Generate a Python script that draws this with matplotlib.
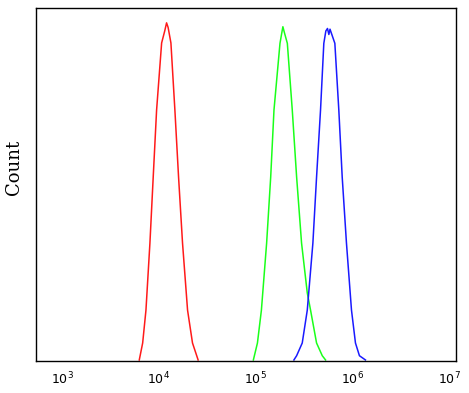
import numpy as np
import matplotlib
matplotlib.use("Agg")
import matplotlib.pyplot as plt

# histogram outlines (log10 intensity, % of max count)
red_log = [3.797, 3.832, 3.866, 3.907, 3.941, 3.976, 4.028, 4.060, 4.079, 4.095,
           4.124, 4.165, 4.203, 4.244, 4.296, 4.347, 4.405]
red_cnt = [0.3, 5.1, 14.4, 33.4, 52.1, 71.1, 90.1, 93.5, 95.8, 94.5,
           90.1, 71.1, 52.1, 33.4, 14.4, 5.1, 0.3]

green_log = [4.976, 5.018, 5.059, 5.113, 5.155, 5.189, 5.251, 5.270, 5.281, 5.295,
             5.327, 5.378, 5.423, 5.474, 5.533, 5.567, 5.629, 5.688, 5.722]
green_cnt = [0.3, 5.1, 14.4, 33.4, 52.1, 71.1, 90.0, 93.0, 94.7, 93.2,
             90.0, 71.1, 52.1, 33.4, 19.3, 14.4, 5.1, 1.5, 0.3]

blue_log = [5.395, 5.423, 5.481, 5.533, 5.591, 5.629, 5.670, 5.704, 5.725, 5.742,
            5.756, 5.768, 5.818, 5.859, 5.894, 5.938, 5.990, 6.031, 6.072, 6.134]
blue_cnt = [0.3, 1.5, 5.1, 14.4, 33.4, 52.1, 71.1, 90.0, 93.5, 94.2,
            92.5, 94.0, 90.0, 71.1, 52.1, 33.4, 14.4, 5.1, 1.5, 0.3]

fig = plt.figure(figsize=(4.69, 3.93), dpi=100)
ax = fig.add_axes([0.0768, 0.0814, 0.8955, 0.8982])

ax.plot(10 ** np.array(red_log), red_cnt, color="#ff1a1a", lw=1.1)
ax.plot(10 ** np.array(green_log), green_cnt, color="#1aff1a", lw=1.1)
ax.plot(10 ** np.array(blue_log), blue_cnt, color="#1a1aff", lw=1.1)

ax.set_xscale("log")
ax.set_xlim(10 ** 2.73, 10 ** 7.07)
ax.set_ylim(0, 100)
ax.set_xticks([1e3, 1e4, 1e5, 1e6, 1e7])
ax.xaxis.set_minor_locator(matplotlib.ticker.NullLocator())
ax.set_yticks([])
ax.tick_params(axis="x", length=0, pad=7, labelsize=9)

for s in ax.spines.values():
    s.set_linewidth(1)
    s.set_color("black")

# y label sits a bit above the axes centre in the original
fig.text(0.030, 0.574, "Count", family="DejaVu Serif", fontsize=13,
         rotation=90, ha="center", va="center")

fig.savefig("out.png", dpi=100)
